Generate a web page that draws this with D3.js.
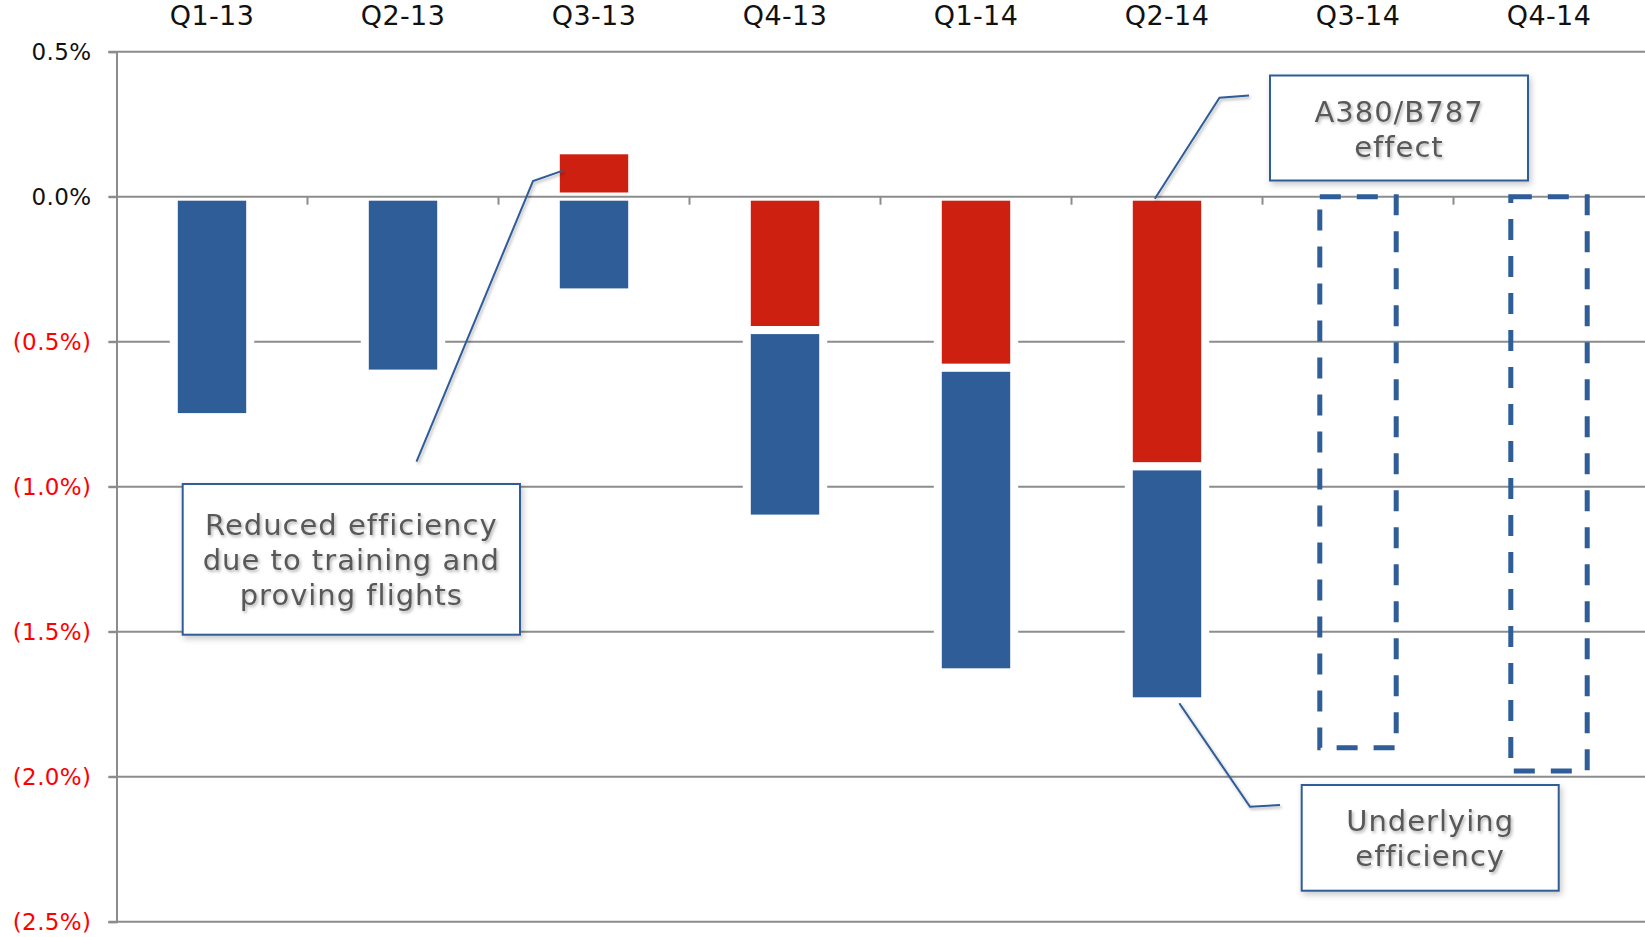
<!DOCTYPE html>
<html>
<head>
<meta charset="utf-8">
<script src="https://cdn.jsdelivr.net/npm/d3@7"></script>
<style>
    html, body { margin: 0; padding: 0; background: #fff; }
    svg { display: block; font-family: 'DejaVu Sans', sans-serif; }
    .grid line { stroke: #8c8c8c; stroke-width: 2; }
    .cat-label { font-size: 27px; letter-spacing: 0.4px; fill: #111; }
    .y-label { font-size: 23px; letter-spacing: 0.4px; }
    .note { font-size: 29px; letter-spacing: 1px; fill: #595959; }
</style>
</head>
<body>
<div id="chart"></div>
<script>
    const quarters = ['Q1-13', 'Q2-13', 'Q3-13', 'Q4-13', 'Q1-14', 'Q2-14', 'Q3-14', 'Q4-14'];
    // underlying efficiency (blue) and A380/B787 effect (red), in %
    const underlying = [-0.76, -0.61, -0.33, -0.65, -1.05, -0.81, null, null];
    const fleetEffect = [null, null, 0.16, -0.46, -0.59, -0.93, null, null];
    // outlook for the rest of 2014 (dashed outline)
    const outlook = [null, null, null, null, null, null, -1.90, -1.98];
    const yTicks = [0.5, 0, -0.5, -1.0, -1.5, -2.0, -2.5];

    const W = 1645, H = 937;
    const plotLeft = 116.5, plotRight = 1644.5, plotTop = 51.7, plotBottom = 921.7;
    const blue = '#2e5d97', red = '#cd2011';

    const svg = d3.select('#chart').append('svg')
        .attr('width', W)
        .attr('height', H);

    const defs = svg.append('defs');
    defs.append('filter').attr('id', 'box-shadow')
        .attr('x', '-10%').attr('y', '-10%').attr('width', '130%').attr('height', '130%')
        .append('feDropShadow')
        .attr('dx', 2).attr('dy', 3).attr('stdDeviation', 3)
        .attr('flood-color', '#000').attr('flood-opacity', 0.22);
    defs.append('filter').attr('id', 'text-shadow')
        .attr('x', '-10%').attr('y', '-20%').attr('width', '130%').attr('height', '150%')
        .append('feDropShadow')
        .attr('dx', 1.5).attr('dy', 2).attr('stdDeviation', 1.5)
        .attr('flood-color', '#000').attr('flood-opacity', 0.3);

    const x = d3.scaleBand()
        .domain(quarters)
        .range([plotLeft, plotRight])
        .paddingInner(0.6)
        .paddingOuter(0.3);

    const y = d3.scaleLinear()
        .domain([-2.5, 0.5])
        .range([plotBottom, plotTop]);

    const fmt = v => v >= 0 ? v.toFixed(1) + '%' : '(' + Math.abs(v).toFixed(1) + '%)';

    // gridlines (zero line is drawn later, over the bars)
    svg.append('g')
        .attr('class', 'grid')
        .selectAll('line')
        .data(yTicks.filter(v => v !== 0))
        .enter()
        .append('line')
        .attr('x1', plotLeft - 8)
        .attr('x2', W)
        .attr('y1', d => y(d))
        .attr('y2', d => y(d));

    // y axis with labels
    const yAxis = svg.append('g')
        .attr('transform', 'translate(' + plotLeft + ',0)')
        .call(d3.axisLeft(y).tickValues(yTicks).tickSize(8).tickPadding(17).tickFormat(fmt));
    yAxis.select('.domain').attr('stroke', '#8c8c8c').attr('stroke-width', 2);
    yAxis.selectAll('.tick line').attr('stroke', '#8c8c8c').attr('stroke-width', 2);
    yAxis.selectAll('.tick text')
        .attr('class', 'y-label')
        .attr('fill', d => d < 0 ? '#ff0000' : '#111');
    yAxis.attr('font-size', null).attr('font-family', null);

    // stacked bars: blue from zero, red stacked on top (or above zero when positive)
    const bars = [];
    quarters.forEach((q, i) => {
        const u = underlying[i], f = fleetEffect[i];
        if (f !== null) {
            bars.push({q: q, y0: 0, y1: f, color: red});
            const base = f < 0 ? f : 0;
            bars.push({q: q, y0: base, y1: base + u, color: blue});
        } else if (u !== null) {
            bars.push({q: q, y0: 0, y1: u, color: blue});
        }
    });

    svg.append('g')
        .selectAll('rect')
        .data(bars)
        .enter()
        .append('rect')
        .attr('x', d => x(d.q))
        .attr('width', x.bandwidth())
        .attr('y', d => y(Math.max(d.y0, d.y1)))
        .attr('height', d => Math.abs(y(d.y0) - y(d.y1)))
        .attr('fill', d => d.color)
        .attr('stroke', '#fff')
        .attr('stroke-width', 8);

    // category axis along zero
    const zero = svg.append('g').attr('class', 'grid');
    zero.append('line')
        .attr('x1', plotLeft - 8).attr('x2', W)
        .attr('y1', y(0)).attr('y2', y(0));
    zero.selectAll('.cat-tick')
        .data(quarters.slice(1))
        .enter()
        .append('line')
        .attr('class', 'cat-tick')
        .attr('x1', d => x(d) + x.bandwidth() / 2 - x.step() / 2)
        .attr('x2', d => x(d) + x.bandwidth() / 2 - x.step() / 2)
        .attr('y1', y(0))
        .attr('y2', y(0) + 8);

    svg.append('g')
        .selectAll('text')
        .data(quarters)
        .enter()
        .append('text')
        .attr('class', 'cat-label')
        .attr('x', d => x(d) + x.bandwidth() / 2)
        .attr('y', 25)
        .attr('text-anchor', 'middle')
        .text(d => d);

    // dashed outlook boxes
    svg.append('g')
        .selectAll('rect')
        .data(quarters.map((q, i) => ({q: q, v: outlook[i]})).filter(d => d.v !== null))
        .enter()
        .append('rect')
        .attr('x', d => x(d.q))
        .attr('width', x.bandwidth())
        .attr('y', y(0))
        .attr('height', d => y(d.v) - y(0))
        .attr('fill', 'none')
        .attr('stroke', blue)
        .attr('stroke-width', 5)
        .attr('stroke-dasharray', '21,16');

    // callouts
    const bx = (q, dx) => x(q) + dx;
    const notes = [
        {
            lines: ['Reduced efficiency', 'due to training and', 'proving flights'],
            box: [182.7, 484, 337.3, 150.7], base: 535,
            leader: [[416.5, 461.6], [533, 181], [bx('Q3-13', 7), y(0.09)]]
        },
        {
            lines: ['A380/B787', 'effect'],
            box: [1270, 75.5, 258, 105], base: 122.3,
            leader: [[1249, 95.5], [1219.5, 97.7], [bx('Q2-14', 26), y(0) + 2]]
        },
        {
            lines: ['Underlying', 'efficiency'],
            box: [1301.7, 785, 257, 105.7], base: 830.7,
            leader: [[1280, 805], [1250, 806.7], [bx('Q2-14', 50.5), y(-1.74) + 2]]
        }
    ];

    const lineGen = d3.line();
    notes.forEach(n => {
        const g = svg.append('g');
        g.append('path')
            .attr('d', lineGen(n.leader))
            .attr('fill', 'none')
            .attr('stroke', blue)
            .attr('stroke-width', 2)
            .attr('filter', 'url(#text-shadow)');
        g.append('rect')
            .attr('x', n.box[0]).attr('y', n.box[1])
            .attr('width', n.box[2]).attr('height', n.box[3])
            .attr('fill', '#fff')
            .attr('stroke', blue)
            .attr('stroke-width', 2)
            .attr('filter', 'url(#box-shadow)');
        g.selectAll('text.note')
            .data(n.lines)
            .enter()
            .append('text')
            .attr('class', 'note')
            .attr('x', n.box[0] + n.box[2] / 2)
            .attr('y', (d, i) => n.base + i * 35)
            .attr('text-anchor', 'middle')
            .attr('filter', 'url(#text-shadow)')
            .text(d => d);
    });
</script>
</body>
</html>
